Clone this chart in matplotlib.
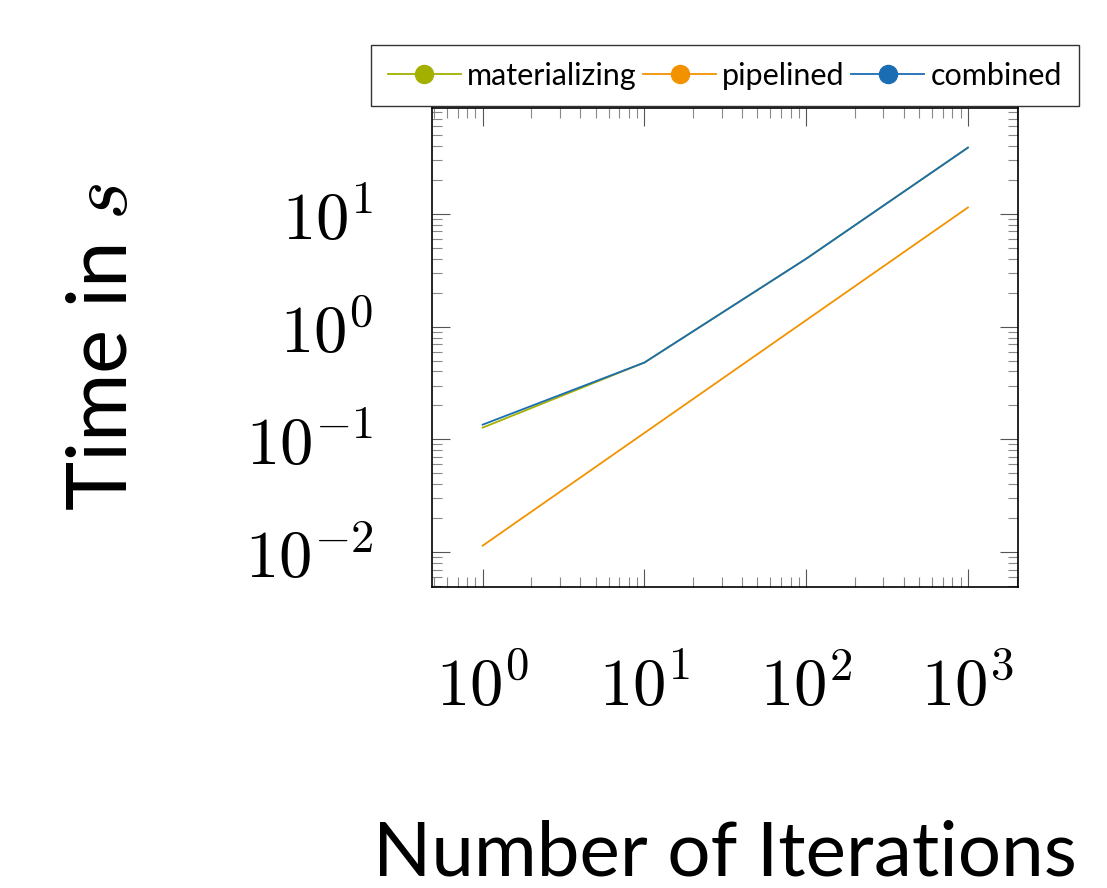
import matplotlib
matplotlib.use("Agg")
import matplotlib.pyplot as plt
from matplotlib.ticker import LogLocator, NullFormatter

# data
iterations = [1, 10, 100, 1000]
materializing = [0.127, 0.48, 4.0, 38.7]
pipelined = [0.0114, 0.114, 1.14, 11.4]
combined = [0.135, 0.48, 4.0, 38.7]

series = [
    ("materializing", materializing, "#a3b000"),
    ("pipelined", pipelined, "#f39200"),
    ("combined", combined, "#1b6db3"),
]

plt.rcParams["mathtext.fontset"] = "cm"

fig = plt.figure(figsize=(11.07, 8.88), dpi=100)
ax = fig.add_axes([0.390, 0.339, 0.5296, 0.5394])

for name, vals, col in series:
    ax.plot(iterations, vals, color=col, lw=1.3, label=name)

ax.set_xscale("log")
ax.set_yscale("log")
ax.set_xlim(0.484, 2040)
ax.set_ylim(0.0049, 87)

ax.xaxis.set_minor_locator(LogLocator(base=10, subs=range(2, 10), numticks=20))
ax.yaxis.set_minor_locator(LogLocator(base=10, subs=range(2, 10), numticks=20))
ax.xaxis.set_minor_formatter(NullFormatter())
ax.yaxis.set_minor_formatter(NullFormatter())

ax.set_xticks([1, 10, 100, 1000])
ax.set_xticklabels([r"$10^{0}$", r"$10^{1}$", r"$10^{2}$", r"$10^{3}$"])
ax.set_yticks([0.01, 0.1, 1, 10])
ax.set_yticklabels([r"$10^{-2}$", r"$10^{-1}$", r"$10^{0}$", r"$10^{1}$"])

ax.tick_params(which="both", direction="in", top=True, right=True, width=0.8)
ax.tick_params(which="major", length=13, labelsize=48, color="#555555")
ax.tick_params(axis="x", which="major", pad=48)
ax.tick_params(axis="y", which="major", pad=42)
ax.tick_params(which="minor", length=7, color="#888888")
for sp in ax.spines.values():
    sp.set_linewidth(1.2)

ax.set_ylabel(r"Time in $s$", family="Lato", fontsize=60, labelpad=74)
ax.set_xlabel("Number of Iterations", family="Lato", fontsize=55, labelpad=72)

handles = []
for name, vals, col in series:
    h, = ax.plot([], [], color=col, lw=1.3, marker="o", ms=13, label=name)
    handles.append(h)
leg = ax.legend(handles=handles, loc="lower center", bbox_to_anchor=(0.5, 1.0),
                ncol=3, frameon=True, fancybox=False, edgecolor="black",
                prop={"family": "Lato", "size": 22}, handlelength=2.4,
                handletextpad=0.2, columnspacing=0.2, borderpad=0.55,
                borderaxespad=0.05)
leg.get_frame().set_linewidth(1.0)

fig.savefig("out.png", dpi=100)
